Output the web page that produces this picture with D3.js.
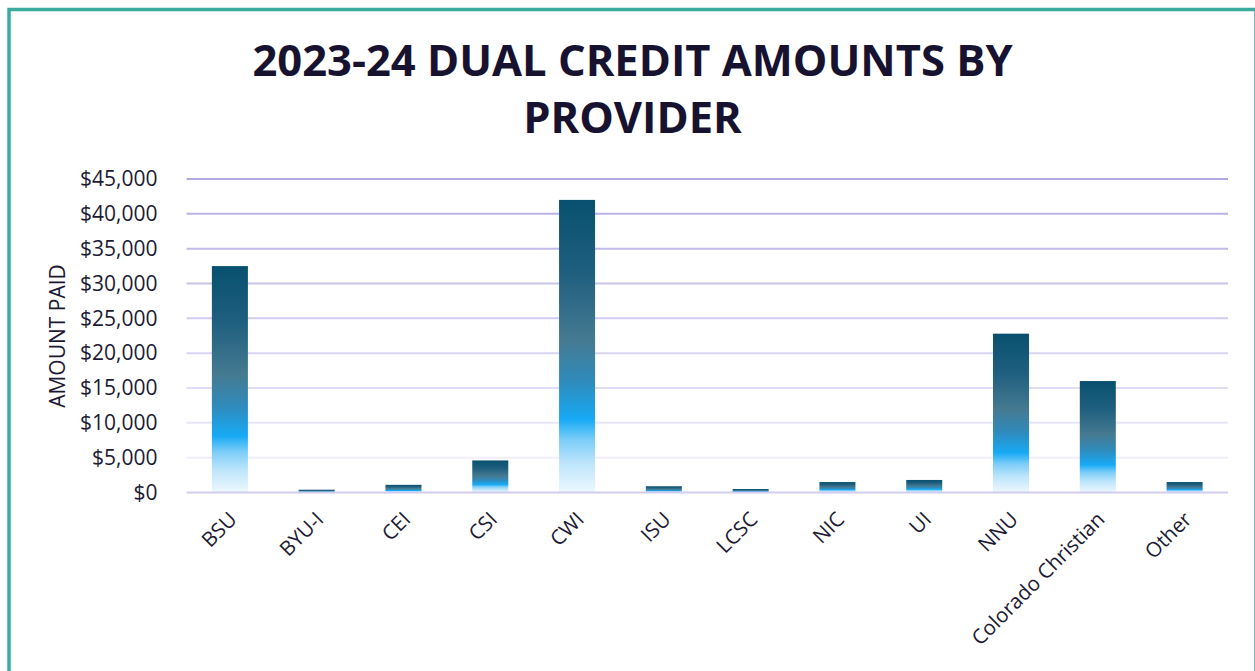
<!DOCTYPE html>
<html>
<head>
<meta charset="utf-8">
<script src="https://cdn.jsdelivr.net/npm/d3@7"></script>
<style>
  html, body { margin: 0; padding: 0; background: #fff; overflow: hidden; }
  text { font-family: "Open Sans", sans-serif; }
</style>
</head>
<body>
<div id="chart"></div>
<script>
// values
const providers = ["BSU", "BYU-I", "CEI", "CSI", "CWI", "ISU", "LCSC", "NIC", "UI", "NNU", "Colorado Christian", "Other"];
const amounts = [32500, 400, 1100, 4600, 42000, 900, 500, 1500, 1800, 22800, 16000, 1500];
const yTicks = [0, 5000, 10000, 15000, 20000, 25000, 30000, 35000, 40000, 45000];
const titleLines = ["2023-24 DUAL CREDIT AMOUNTS BY", "PROVIDER"];
const yTitle = "AMOUNT PAID";

const W = 1255, H = 671;
const margin = {top: 179, right: 27, bottom: 178.5, left: 186.5};
const width = W - margin.left - margin.right;
const height = H - margin.top - margin.bottom;

const svg = d3.select("#chart").append("svg")
    .attr("width", W)
    .attr("height", H);

// bar gradient (per bar, top to bottom)
const defs = svg.append("defs");
const grad = defs.append("linearGradient")
    .attr("id", "barGrad")
    .attr("x1", 0).attr("y1", 0).attr("x2", 0).attr("y2", 1);
[
    [0, "#08506f"], [0.25, "#1f5f7f"], [0.48, "#457a91"], [0.62, "#2f8bbc"],
    [0.75, "#17aaf5"], [0.82, "#7ccdf8"], [0.9, "#bde5fb"], [1, "#eef8fe"]
].forEach(s => grad.append("stop").attr("offset", s[0]).attr("stop-color", s[1]));

// outer frame
svg.append("rect")
    .attr("x", 9).attr("y", 9.5)
    .attr("width", 1247).attr("height", 700)
    .attr("fill", "none")
    .attr("stroke", "#3aab9e")
    .attr("stroke-width", 3.5);

// title
svg.append("text")
    .attr("text-anchor", "middle")
    .attr("font-weight", 700)
    .attr("font-size", 43.5)
    .attr("fill", "#16122f")
    .selectAll("tspan")
    .data(titleLines)
    .join("tspan")
    .attr("x", 632.5)
    .attr("y", (d, i) => 76 + i * 57)
    .text(d => d);

const g = svg.append("g")
    .attr("transform", `translate(${margin.left},${margin.top})`);

const xScale = d3.scaleBand()
    .domain(providers)
    .range([0, width])
    .paddingInner(0.585)
    .paddingOuter(0.2925);

const yScale = d3.scaleLinear()
    .domain([0, 45000])
    .range([height, 0]);

// gridlines, fading toward the bottom
const gridColor = d3.scaleLinear()
    .domain([5000, 45000])
    .range(["#f0eefa", "#b2aae3"]);

g.selectAll(".grid")
    .data(yTicks.filter(d => d > 0))
    .join("line")
    .attr("class", "grid")
    .attr("x1", 0).attr("x2", width)
    .attr("y1", d => yScale(d)).attr("y2", d => yScale(d))
    .attr("stroke", d => gridColor(d))
    .attr("stroke-width", 2);

// bars
g.selectAll(".bar")
    .data(providers.map((p, i) => ({name: p, value: amounts[i]})))
    .join("rect")
    .attr("class", "bar")
    .attr("x", d => xScale(d.name))
    .attr("width", xScale.bandwidth())
    .attr("y", d => yScale(d.value))
    .attr("height", d => height - yScale(d.value))
    .attr("fill", "url(#barGrad)");

// baseline
g.append("line")
    .attr("x1", 0).attr("x2", width)
    .attr("y1", height).attr("y2", height)
    .attr("stroke", "#d2cdee")
    .attr("stroke-width", 2);

// y axis
const yAxis = d3.axisLeft(yScale)
    .tickValues(yTicks)
    .tickFormat(d3.format("$,"))
    .tickSize(0)
    .tickPadding(29);

g.append("g")
    .attr("class", "axis y-axis")
    .call(yAxis)
    .call(sel => sel.select(".domain").remove())
    .selectAll("text")
    .attr("font-family", "Open Sans")
    .attr("font-size", 21)
    .attr("fill", "#1c1a33");

// x axis
const xAxis = d3.axisBottom(xScale).tickSize(0);

g.append("g")
    .attr("class", "axis x-axis")
    .attr("transform", `translate(0,${height})`)
    .call(xAxis)
    .call(sel => sel.select(".domain").remove())
    .selectAll("text")
    .attr("font-family", "Open Sans")
    .attr("font-size", 20.5)
    .attr("fill", "#1c1a33")
    .attr("text-anchor", "end")
    .attr("dy", "0.35em")
    .attr("transform", "translate(1,21) rotate(-45)");

// y axis title
svg.append("text")
    .attr("transform", "translate(58,336) rotate(-90)")
    .attr("text-anchor", "middle")
    .attr("dy", "0.35em")
    .attr("font-size", 21)
    .attr("fill", "#1c1a33")
    .text(yTitle);
</script>
</body>
</html>
